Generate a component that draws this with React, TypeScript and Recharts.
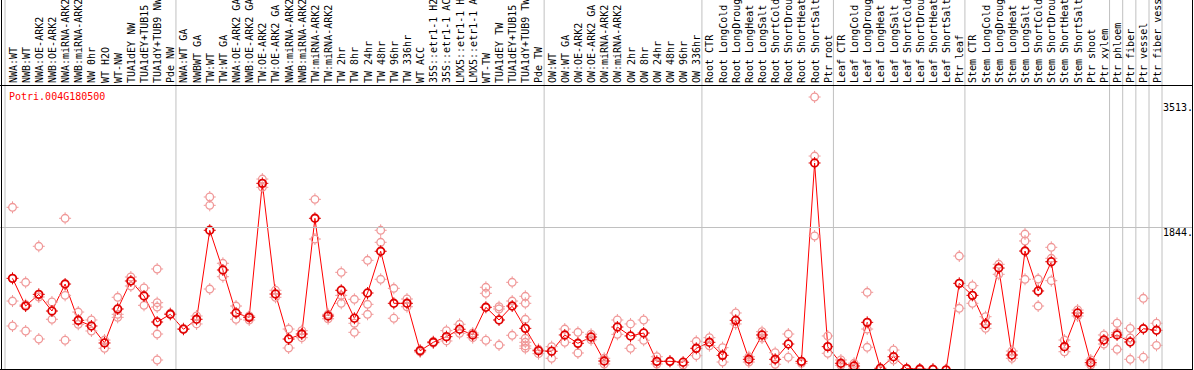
import React from 'react';
import { ComposedChart, Line, XAxis, YAxis } from 'recharts';

const geneId = 'Potri.004G180500';

const categories = [
  'NWA:WT', 'NWB:WT', 'NWA:OE-ARK2', 'NWB:OE-ARK2', 'NWA:miRNA-ARK2', 'NWB:miRNA-ARK2',
  'NW 0hr', 'WT H2O', 'WT-NW', 'TUA1dEY NW', 'TUA1dEY+TUB15 NW', 'TUA1dY+TUB9 NW', 'Pde NW',
  'NWA:WT GA', 'NWBWT GA', 'TW:WT', 'TW:WT GA', 'NWA:OE-ARK2 GA', 'NWB:OE-ARK2 GA',
  'TW:OE-ARK2', 'TW:OE-ARK2 GA', 'NWA:miRNA-ARK2 GA', 'NWB:miRNA-ARK2 GA', 'TW:miRNA-ARK2',
  'TW:miRNA-ARK2 GA', 'TW 2hr', 'TW 8hr', 'TW 24hr', 'TW 48hr', 'TW 96hr', 'TW 336hr', 'WT ACC',
  '35S::etr1-1 H2O', '35S::etr1-1 ACC', 'LMX5::etr1-1 H2O', 'LMX5::etr1-1 ACC', 'WT-TW',
  'TUA1dEY TW', 'TUA1dEY+TUB15 TW', 'TUA1dY+TUB9 TW', 'Pde TW',
  'OW:WT', 'OW:WT GA', 'OW:OE-ARK2', 'OW:OE-ARK2 GA', 'OW:miRNA-ARK2', 'OW:miRNA-ARK2 GA',
  'OW 2hr', 'OW 8hr', 'OW 24hr', 'OW 48hr', 'OW 96hr', 'OW 336hr',
  'Root CTR', 'Root LongCold', 'Root LongDrought', 'Root LongHeat', 'Root LongSalt',
  'Root ShortCold', 'Root ShortDrought', 'Root ShortHeat', 'Root ShortSalt', 'Ptr root',
  'Leaf CTR', 'Leaf LongCold', 'Leaf LongDrought', 'Leaf LongHeat', 'Leaf LongSalt',
  'Leaf ShortCold', 'Leaf ShortDrought', 'Leaf ShortHeat', 'Leaf ShortSalt', 'Ptr leaf',
  'Stem CTR', 'Stem LongCold', 'Stem LongDrought', 'Stem LongHeat', 'Stem LongSalt',
  'Stem ShortCold', 'Stem ShortDrought', 'Stem ShortHeat', 'Stem ShortSalt', 'Ptr shoot',
  'Ptr xylem', 'Ptr phloem', 'Ptr fiber', 'Ptr vessel', 'Ptr fiber vessel',
];

// mean expression per sample (red line)
const means = [
  1188, 833, 983, 769, 1115, 650, 577, 359, 795, 1154, 962, 628, 727,
  535, 663, 1804, 1295, 744, 688, 2406, 987, 410, 474, 1958, 705, 1035, 676, 1000, 1535, 868, 868,
  260, 368, 440, 535, 462, 817, 654, 833, 547, 260,
  253, 462, 355, 436, 128, 564, 449, 487, 124, 124, 112, 291,
  368, 201, 650, 150, 462, 150, 346, 124, 2667, 312,
  99, 64, 624, 35, 183, 30, 25, 20, 15, 1124,
  970, 603, 1320, 205, 1538, 1026, 1401, 312, 744, 106,
  397, 462, 372, 542, 522,
];

// individual replicates (pink circles)
const replicates: number[][] = [
  [2099, 897, 577], [1137, 513, 850], [1599, 949, 410], [885, 663], [1958, 970, 394],
  [756, 599], [654, 513], [397, 291], [945, 727, 688], [1205, 1090], [1064, 842],
  [1308, 876, 820, 474, 141], [740],
  [545], [705, 603], [2231, 2124, 1051], [1381, 1209], [833, 663], [705, 654], [2461, 2355],
  [1035, 945], [538, 295], [517, 427], [2201, 1692], [727, 670], [1265, 970, 868],
  [919, 612, 496], [1419, 855, 727], [1804, 1650, 1176], [1060, 676], [923, 824],
  [269, 244], [378, 359], [517, 385], [599, 483], [427, 487], [1073, 996, 394],
  [824, 795, 333], [1137, 897, 458], [958, 868, 663, 419, 368, 321, 291], [278, 222],
  [312, 163], [538, 368], [496, 231], [471, 400], [163, 90], [654, 470], [603, 291],
  [654, 394], [183, 90], [128], [77], [381, 196],
  [427, 324], [299, 115], [744, 603], [183, 115], [504, 423], [235, 86], [474, 176], [99],
  [3513, 2756, 1731], [449, 227],
  [141, 73], [99, 35], [1009, 538, 304], [13], [269, 141], [20], [15], [25], [10], [1474, 804],
  [1094, 868], [696, 547], [1368, 1240], [163, 256], [1756, 1667, 1176], [1179, 833],
  [1586, 1445, 1158], [397, 247], [782, 705], [77, 141],
  [462, 346], [612, 491, 278], [547, 423, 150], [932, 176], [612, 329],
];

const groupStarts = [
  'NWA:WT', 'NWA:WT GA', 'OW:WT', 'Root CTR', 'Leaf CTR', 'Stem CTR',
  'Ptr phloem', 'Ptr fiber', 'Ptr vessel', 'Ptr fiber vessel',
];

const yTicks = [0, 1844, 3513];
const yTickLabels = ['0', '1844.', '3513.'];
const gridValues = [1844];

const W = 1194;
const H = 370;
const MONO = '"DejaVu Sans Mono", monospace';
const GRID = '#c0c0c0';
const PINK = '#f09898';
const RED = '#ff0000';

const data = categories.map((name, i) => {
  const row: Record<string, string | number> = { name, mean: means[i] };
  replicates[i].forEach((v, k) => {
    row[`r${k}`] = v;
  });
  return row;
});

const repKeys = Array.from(
  { length: Math.max(...replicates.map((r) => r.length)) },
  (_, k) => `r${k}`
);

// circle with little ticks around it, like the original markers
const Marker = ({ cx, cy, color, width }: { cx: number; cy: number; color: string; width: number }) => (
  <g>
    <circle cx={cx} cy={cy} r={3.8} fill="none" stroke={color} strokeWidth={width} />
    <path
      d={`M${cx},${cy - 6}v2 M${cx},${cy + 4}v2 M${cx - 6},${cy}h2 M${cx + 4},${cy}h2`}
      stroke={color}
      strokeWidth={1}
    />
  </g>
);

const makeDot = (color: string, width: number, prefix: string) => (props: any) => {
  const { cx, cy, value, index } = props;
  if (value == null || cx == null || cy == null || Number.isNaN(cy)) {
    return <g key={`${prefix}-${index}`} />;
  }
  return (
    <g key={`${prefix}-${index}`}>
      <Marker cx={cx} cy={cy} color={color} width={width} />
    </g>
  );
};

const CategoryTick = (props: any) => {
  const { x, index, payload } = props;
  const lines: number[] = [];
  if (groupStarts.includes(payload.value)) lines.push(x - 7.5);
  if (index === categories.length - 1) lines.push(x + 5.5);
  return (
    <g>
      {lines.map((lx) => (
        <line key={lx} x1={lx} x2={lx} y1={0} y2={H} stroke={GRID} strokeWidth={1} />
      ))}
      <text
        transform={`translate(${x + 4},83) rotate(-90)`}
        fontFamily={MONO}
        fontSize={10}
        fill="#000"
        textAnchor="start"
      >
        {payload.value}
      </text>
    </g>
  );
};

const ValueTick = (props: any) => {
  const { y, payload, index } = props;
  const ty = Math.min(Math.max(y + 9, 111), 366);
  const gy = Math.round(y) + 0.5;
  return (
    <g>
      {gridValues.includes(payload.value) && (
        <line x1={0} x2={1192} y1={gy} y2={gy} stroke={GRID} strokeWidth={1} />
      )}
      <text x={1163} y={ty} fontFamily={MONO} fontSize={10} fill="#000">
        {yTickLabels[yTicks.indexOf(payload.value)] ?? yTickLabels[index]}
      </text>
    </g>
  );
};

export default function App() {
  return (
    <div
      style={{
        position: 'absolute',
        left: 0,
        top: 0,
        width: W,
        height: H,
        overflow: 'hidden',
        background: '#fff',
      }}
    >
      <ComposedChart
        width={W}
        height={372}
        data={data}
        margin={{ top: 0, right: 0, bottom: 1, left: 12.5 }}
      >
        <XAxis
          dataKey="name"
          orientation="top"
          height={97}
          interval={0}
          axisLine={false}
          tickLine={false}
          tick={CategoryTick}
        />
        <YAxis
          orientation="right"
          width={37.5}
          domain={[0, 3513]}
          ticks={yTicks}
          axisLine={false}
          tickLine={false}
          tick={ValueTick}
        />
        {repKeys.map((key) => (
          <Line
            key={key}
            dataKey={key}
            stroke="none"
            dot={makeDot(PINK, 1.3, key)}
            activeDot={false}
            legendType="none"
            isAnimationActive={false}
          />
        ))}
        <Line
          dataKey="mean"
          stroke={RED}
          strokeWidth={1}
          dot={makeDot('#e00000', 1.8, 'mean')}
          activeDot={false}
          legendType="none"
          isAnimationActive={false}
        />
      </ComposedChart>
      <svg
        width={W}
        height={H}
        style={{ position: 'absolute', left: 0, top: 0, pointerEvents: 'none' }}
      >
        <line x1={1.5} x2={1.5} y1={0} y2={H} stroke="#000" />
        <line x1={1192.5} x2={1192.5} y1={0} y2={H} stroke="#000" />
        <line x1={0} x2={1193} y1={85.5} y2={85.5} stroke="#000" />
        <line x1={0} x2={1193} y1={369.5} y2={369.5} stroke="#000" />
        <text x={9} y={100} fontFamily={MONO} fontSize={10} fill={RED}>
          {geneId}
        </text>
      </svg>
    </div>
  );
}
